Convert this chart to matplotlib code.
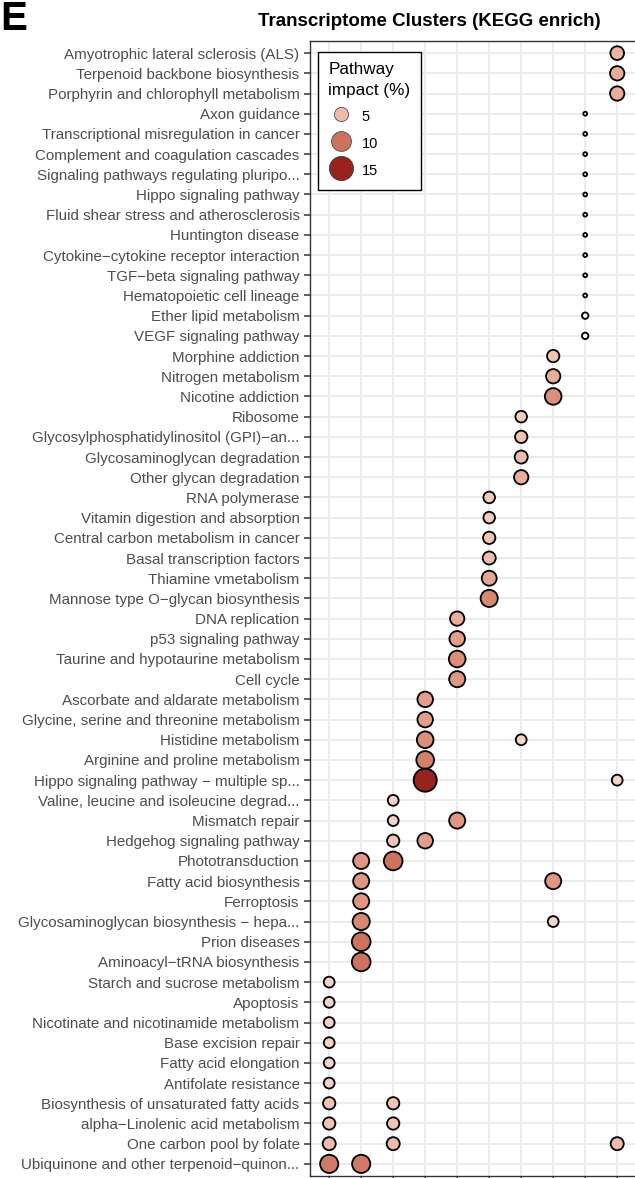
import numpy as np
import matplotlib.pyplot as plt
from matplotlib.colors import LinearSegmentedColormap, Normalize
from matplotlib.lines import Line2D

plt.rcParams["font.family"] = ["Liberation Sans", "DejaVu Sans"]

DPI = 100
W_PX, H_PX = 635, 1178

CLUSTERS = list(range(1, 11))

PATHWAYS = [
    "Amyotrophic lateral sclerosis (ALS)",
    "Terpenoid backbone biosynthesis",
    "Porphyrin and chlorophyll metabolism",
    "Axon guidance",
    "Transcriptional misregulation in cancer",
    "Complement and coagulation cascades",
    "Signaling pathways regulating pluripo...",
    "Hippo signaling pathway",
    "Fluid shear stress and atherosclerosis",
    "Huntington disease",
    "Cytokine\u2212cytokine receptor interaction",
    "TGF\u2212beta signaling pathway",
    "Hematopoietic cell lineage",
    "Ether lipid metabolism",
    "VEGF signaling pathway",
    "Morphine addiction",
    "Nitrogen metabolism",
    "Nicotine addiction",
    "Ribosome",
    "Glycosylphosphatidylinositol (GPI)\u2212an...",
    "Glycosaminoglycan degradation",
    "Other glycan degradation",
    "RNA polymerase",
    "Vitamin digestion and absorption",
    "Central carbon metabolism in cancer",
    "Basal transcription factors",
    "Thiamine vmetabolism",
    "Mannose type O\u2212glycan biosynthesis",
    "DNA replication",
    "p53 signaling pathway",
    "Taurine and hypotaurine metabolism",
    "Cell cycle",
    "Ascorbate and aldarate metabolism",
    "Glycine, serine and threonine metabolism",
    "Histidine metabolism",
    "Arginine and proline metabolism",
    "Hippo signaling pathway \u2212 multiple sp...",
    "Valine, leucine and isoleucine degrad...",
    "Mismatch repair",
    "Hedgehog signaling pathway",
    "Phototransduction",
    "Fatty acid biosynthesis",
    "Ferroptosis",
    "Glycosaminoglycan biosynthesis \u2212 hepa...",
    "Prion diseases",
    "Aminoacyl\u2212tRNA biosynthesis",
    "Starch and sucrose metabolism",
    "Apoptosis",
    "Nicotinate and nicotinamide metabolism",
    "Base excision repair",
    "Fatty acid elongation",
    "Antifolate resistance",
    "Biosynthesis of unsaturated fatty acids",
    "alpha\u2212Linolenic acid metabolism",
    "One carbon pool by folate",
    "Ubiquinone and other terpenoid\u2212quinon...",
]

# one entry per enriched (pathway, cluster) pair: row index into PATHWAYS
HIT_ROW = [
    0, 1, 2,
    3, 4, 5, 6, 7, 8, 9, 10, 11, 12, 13, 14,
    15, 16, 17,
    18, 19, 20, 21,
    22, 23, 24, 25, 26, 27,
    28, 29, 30, 31,
    32, 33, 34, 34, 35, 36, 36,
    37, 38, 38, 39, 39,
    40, 40, 41, 41, 42, 43, 43, 44, 45,
    46, 47, 48, 49, 50, 51,
    52, 52, 53, 53, 54, 54, 54, 55, 55,
]
HIT_CLUSTER = [
    10, 10, 10,
    9, 9, 9, 9, 9, 9, 9, 9, 9, 9, 9, 9,
    8, 8, 8,
    7, 7, 7, 7,
    6, 6, 6, 6, 6, 6,
    5, 5, 5, 5,
    4, 4, 4, 7, 4, 4, 10,
    3, 3, 5, 3, 4,
    2, 3, 2, 8, 2, 2, 8, 2, 2,
    1, 1, 1, 1, 1, 1,
    1, 3, 1, 3, 1, 3, 10, 1, 2,
]
HIT_IMPACT = [
    5.5, 6.0, 6.0,
    0.3, 0.3, 0.3, 0.3, 0.3, 0.3, 0.3, 0.3, 0.3, 0.3, 1.2, 1.2,
    4.5, 6.0, 8.0,
    4.0, 4.5, 5.0, 6.0,
    4.0, 4.0, 4.5, 5.0, 6.5, 8.5,
    6.0, 7.0, 8.0, 7.5,
    7.0, 7.0, 8.0, 3.5, 9.0, 15.0, 3.5,
    3.5, 3.5, 7.5, 4.5, 7.0,
    7.5, 10.0, 7.5, 7.5, 7.5, 8.5, 3.5, 10.0, 10.0,
    3.5, 3.5, 3.5, 3.5, 3.5, 3.5,
    4.5, 4.5, 4.5, 4.5, 5.0, 5.0, 5.0, 9.5, 9.5,
]
LEGEND_IMPACT = [5, 10, 15]

IMPACT_MAX = 16.0
EDGE_LW = 1.3

cmap = LinearSegmentedColormap.from_list(
    "impact",
    [
        (0.0, "#FFFFFF"),
        (3 / 16, "#F8DAD0"),
        (6 / 16, "#E9AD9B"),
        (9 / 16, "#D5806B"),
        (12 / 16, "#BC5846"),
        (1.0, "#8B1212"),
    ],
)
norm = Normalize(0, IMPACT_MAX)


def outer_diameter_pt(v):
    # circle area grows linearly with impact
    px = np.sqrt(40.0 * np.asarray(v, dtype=float) + 20.0)
    return px * 72 / DPI


fig = plt.figure(figsize=(W_PX / DPI, H_PX / DPI), dpi=DPI)
n_rows = len(PATHWAYS)
ax = fig.add_axes([310 / W_PX, 1 - 1176 / H_PX, 326.4 / W_PX, 1135 / H_PX])

x = np.array(HIT_CLUSTER)
y = np.array(HIT_ROW) + 1
inner = np.clip(outer_diameter_pt(HIT_IMPACT) - EDGE_LW, 1.0, None)
ax.scatter(
    x, y,
    s=inner ** 2,
    c=HIT_IMPACT,
    cmap=cmap,
    norm=norm,
    edgecolors="black",
    linewidths=EDGE_LW,
    zorder=3,
)

ax.set_xlim(0.4, len(CLUSTERS) + 0.6)
ax.set_ylim(n_rows + 0.6, 0.4)
ax.set_xticks(CLUSTERS)
ax.set_xticklabels([])
ax.set_yticks(np.arange(1, n_rows + 1))
ax.set_yticklabels(PATHWAYS, fontsize=10.9, color="#4D4D4D")
ax.tick_params(axis="both", length=4, width=1.1, color="#333333", pad=3.5)
ax.grid(True, color="#EBEBEB", linewidth=1.4, zorder=0)
ax.set_axisbelow(True)
for sp in ax.spines.values():
    sp.set_color("#333333")
    sp.set_linewidth(1.0)

fig.text(258 / W_PX, 1 - 22 / H_PX, "Transcriptome Clusters (KEGG enrich)",
         fontsize=13.5, fontweight="bold", ha="left", va="center")
fig.text(0, 1 - 30 / H_PX, "E", fontsize=29, fontweight="bold",
         ha="left", va="baseline")

handles = [
    Line2D([], [], linestyle="", marker="o",
           markersize=float(outer_diameter_pt(v)) - 0.5,
           markerfacecolor=cmap(norm(v)), markeredgecolor="#333333",
           markeredgewidth=0.5)
    for v in LEGEND_IMPACT
]
leg = fig.legend(
    handles, [str(v) for v in LEGEND_IMPACT],
    title="Pathway\nimpact (%)",
    loc="upper left",
    bbox_to_anchor=(318 / W_PX, 1 - 52 / H_PX),
    borderaxespad=0,
    frameon=True, fancybox=False, framealpha=1,
    edgecolor="black",
    fontsize=10.5, title_fontsize=12.3,
    alignment="left",
    labelspacing=0.65, handletextpad=0.6, borderpad=0.7,
    handlelength=1.7, handleheight=1.5,
)
leg.get_title().set_linespacing(1.45)
leg.get_frame().set_linewidth(1.0)

fig.savefig("out.png", dpi=DPI)
